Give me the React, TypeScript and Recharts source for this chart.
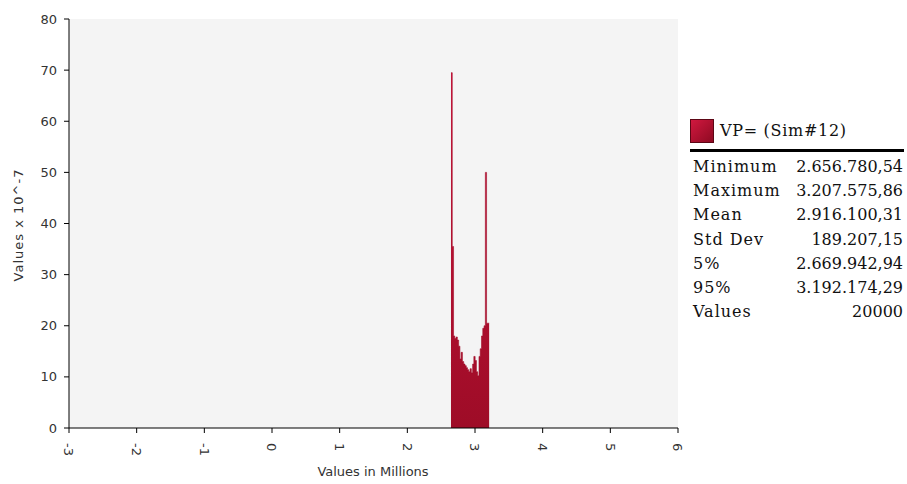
import React from "react";
import { ComposedChart, Area, XAxis, YAxis, CartesianGrid, Label } from "recharts";

// Histogram bins (values in millions) and heights (values x 10^-7)
const binStarts = [
  2.645, 2.664, 2.683, 2.701, 2.72, 2.739, 2.758, 2.777, 2.795, 2.814,
  2.833, 2.852, 2.871, 2.889, 2.908, 2.927, 2.946, 2.965, 2.983, 3.002,
  3.021, 3.04, 3.059, 3.077, 3.096, 3.115, 3.134, 3.153, 3.171, 3.19,
];
const binEnd = 3.209;
const binHeights = [
  69.5, 35.5, 18.0, 17.5, 17.8, 17.2, 16.0, 13.5, 14.8, 13.0,
  12.5, 12.2, 11.8, 11.4, 11.0, 11.6, 10.8, 12.5, 14.0, 13.2,
  11.0, 10.2, 14.0, 15.5, 18.0, 19.5, 20.0, 50.0, 20.5, 20.5,
];

const xTicks = [-3, -2, -1, 0, 1, 2, 3, 4, 5, 6];
const yTicks = [0, 10, 20, 30, 40, 50, 60, 70, 80];

const seriesName = "VP= (Sim#12)";
const statLabels = ["Minimum", "Maximum", "Mean", "Std Dev", "5%", "95%", "Values"];
const statValues = [
  "2.656.780,54",
  "3.207.575,86",
  "2.916.100,31",
  "189.207,15",
  "2.669.942,94",
  "3.192.174,29",
  "20000",
];

const data = binStarts
  .map((x, i) => ({ x, y: binHeights[i] }))
  .concat([{ x: binEnd, y: binHeights[binHeights.length - 1] }]);

const sans = "'DejaVu Sans', Verdana, sans-serif";
const serif = "'DejaVu Serif', 'Liberation Serif', serif";

const XTick = (props: any) => {
  const { x, y, payload } = props;
  return (
    <g transform={`translate(${x},${y})`}>
      <text
        transform="rotate(90)"
        x={7}
        y={0}
        dy="0.36em"
        textAnchor="start"
        fill="#333"
        fontSize={13}
        fontFamily={sans}
      >
        {payload.value}
      </text>
    </g>
  );
};

export default function App() {
  return (
    <div style={{ position: "absolute", left: 0, top: 0, width: 907, height: 484, background: "#fff" }}>
      <ComposedChart
        width={907}
        height={484}
        data={data}
        margin={{ top: 19, right: 229, left: 19, bottom: 8 }}
      >
        <defs>
          <linearGradient id="barFill" x1="0" y1="0" x2="0" y2="1">
            <stop offset="0%" stopColor="#c8153c" />
            <stop offset="100%" stopColor="#9e0c27" />
          </linearGradient>
        </defs>
        <CartesianGrid fill="#f4f4f4" horizontal={false} vertical={false} stroke="none" />
        <XAxis
          dataKey="x"
          type="number"
          domain={[-3, 6]}
          ticks={xTicks}
          interval={0}
          height={48}
          tick={<XTick />}
          tickSize={5}
          tickMargin={3}
          axisLine={{ stroke: "#000" }}
          tickLine={{ stroke: "#000" }}
          allowDataOverflow
        >
          <Label
            content={() => (
              <text x={373} y={476} textAnchor="middle" fill="#333" fontSize={13} fontFamily={sans}>
                Values in Millions
              </text>
            )}
          />
        </XAxis>
        <YAxis
          type="number"
          domain={[0, 80]}
          ticks={yTicks}
          interval={0}
          width={50}
          tickSize={5}
          tickMargin={7}
          tick={{ fill: "#333", fontSize: 13, fontFamily: sans }}
          axisLine={{ stroke: "#000" }}
          tickLine={{ stroke: "#000" }}
        >
          <Label
            content={() => (
              <text
                x={18}
                y={225}
                transform="rotate(-90 18 225)"
                textAnchor="middle"
                dominantBaseline="central"
                fill="#333"
                fontSize={13}
                letterSpacing={1}
                fontFamily={sans}
              >
                Values x 10^-7
              </text>
            )}
          />
        </YAxis>
        <Area
          dataKey="y"
          type="stepAfter"
          fill="url(#barFill)"
          fillOpacity={1}
          stroke="#a30e2a"
          strokeWidth={0.6}
          isAnimationActive={false}
          dot={false}
          activeDot={false}
        />
      </ComposedChart>

      <div style={{ position: "absolute", left: 690, top: 119, width: 24, height: 24, boxSizing: "border-box", border: "1px solid #5c0615", background: "linear-gradient(135deg, #d0183f, #8e0a22)" }} />
      <div style={{ position: "absolute", left: 720, top: 119, height: 24, lineHeight: "24px", fontFamily: serif, fontSize: 16, letterSpacing: 0.7, color: "#111", whiteSpace: "nowrap" }}>
        {seriesName}
      </div>
      <div style={{ position: "absolute", left: 690, top: 149, width: 214, height: 3, background: "#000" }} />
      {statLabels.map((lab, i) => (
        <div
          key={lab}
          style={{ position: "absolute", left: 693, top: 155 + i * 24.2, width: 210, height: 24, lineHeight: "24px", fontFamily: serif, fontSize: 16, color: "#111", whiteSpace: "nowrap" }}
        >
          <span style={{ position: "absolute", left: 0, letterSpacing: 1 }}>{lab}</span>
          <span style={{ position: "absolute", right: 0 }}>{statValues[i]}</span>
        </div>
      ))}
    </div>
  );
}
